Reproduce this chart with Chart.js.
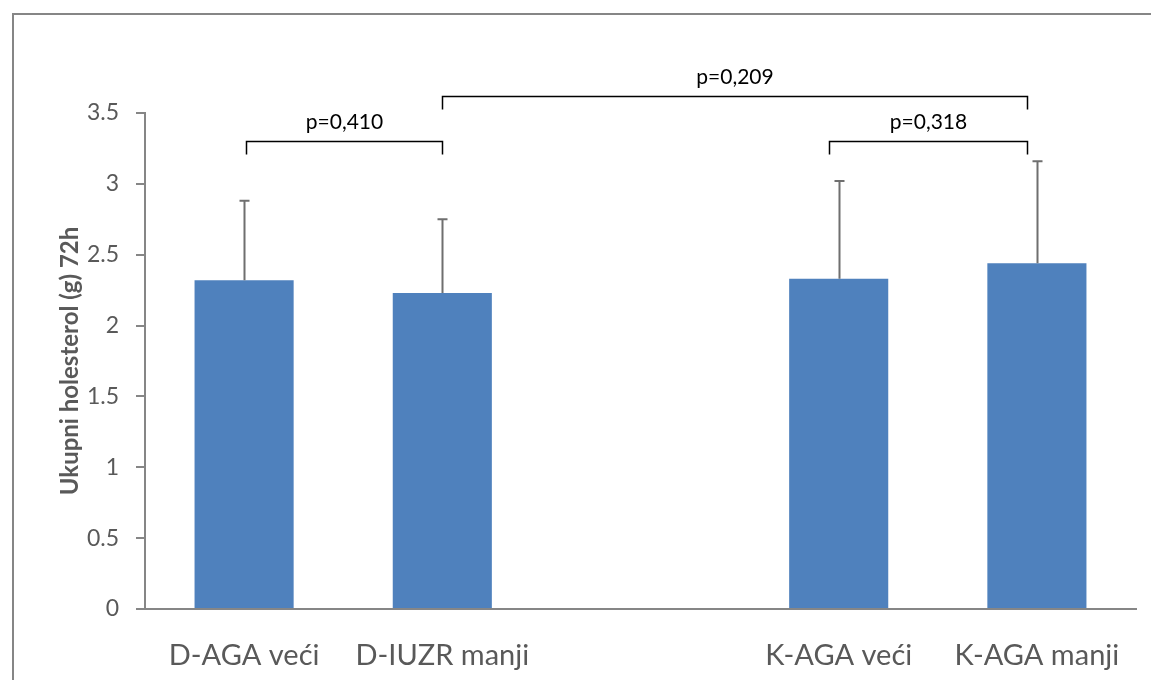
<!DOCTYPE html>
<html>
<head>
<meta charset="utf-8">
<script src="https://cdn.jsdelivr.net/npm/chart.js@4/dist/chart.umd.min.js"></script>
<style>
  html, body { margin: 0; padding: 0; background: #fff; }
  #wrap { width: 1151px; height: 680px; }
</style>
</head>
<body>
<div id="wrap"><canvas id="cholChart" width="1151" height="680"></canvas></div>
<script>
// groups (the empty slot separates D and K groups)
const categories = ['D-AGA veći', 'D-IUZR manji', '', 'K-AGA veći', 'K-AGA manji'];
const means = [2.32, 2.23, null, 2.33, 2.44];
const sdValues = [0.56, 0.52, null, 0.69, 0.72];
const yTicks = [0, 0.5, 1, 1.5, 2, 2.5, 3, 3.5];

// significance brackets: label, from/to category index, height (axis units)
const pLabels = ['p=0,410', 'p=0,209', 'p=0,318'];
const pFrom = [0.01, 1, 2.95];
const pTo = [1, 3.95, 3.95];
const pLevel = [3.30, 3.62, 3.30];

const textColor = '#595959';
const axisColor = '#868686';

// white background plus the outer frame
const framePlugin = {
    id: 'frame',
    beforeDraw(chart) {
        const c = chart.ctx;
        c.save();
        c.fillStyle = '#fff';
        c.fillRect(0, 0, chart.width, chart.height);
        c.strokeStyle = axisColor;
        c.lineWidth = 2;
        c.strokeRect(13, 14, chart.width + 20, chart.height + 20);
        c.restore();
    }
};

// upper standard deviation whiskers
const errorBarPlugin = {
    id: 'errorBars',
    afterDatasetsDraw(chart) {
        const c = chart.ctx;
        const y = chart.scales.y;
        const meta = chart.getDatasetMeta(0);
        c.save();
        c.strokeStyle = '#6f6f6f';
        c.lineWidth = 2;
        meta.data.forEach((bar, i) => {
            if (means[i] == null) return;
            const top = y.getPixelForValue(means[i] + sdValues[i]);
            const x = Math.round(bar.x) + 0.5;
            c.beginPath();
            c.moveTo(x, bar.y);
            c.lineTo(x, top);
            c.moveTo(x - 5, top);
            c.lineTo(x + 5, top);
            c.stroke();
        });
        c.restore();
    }
};

// p-value brackets above the bars
const bracketPlugin = {
    id: 'brackets',
    afterDraw(chart) {
        const c = chart.ctx;
        const xs = chart.scales.x, ys = chart.scales.y;
        c.save();
        c.strokeStyle = '#000';
        c.lineWidth = 1.5;
        c.fillStyle = '#000';
        c.font = '21px Lato';
        c.textAlign = 'center';
        c.textBaseline = 'alphabetic';
        pLabels.forEach((label, i) => {
            const x1 = Math.round(xs.getPixelForValue(pFrom[i])) + 0.5;
            const x2 = Math.round(xs.getPixelForValue(pTo[i])) + 0.5;
            const yb = Math.round(ys.getPixelForValue(pLevel[i])) + 0.5;
            c.beginPath();
            c.moveTo(x1, yb + 13);
            c.lineTo(x1, yb);
            c.lineTo(x2, yb);
            c.lineTo(x2, yb + 13);
            c.stroke();
            c.fillText(label, (x1 + x2) / 2, yb - 13);
        });
        c.restore();
    }
};

new Chart(document.getElementById('cholChart'), {
    type: 'bar',
    data: {
        labels: categories,
        datasets: [{
            data: means,
            backgroundColor: '#4f81bd',
            barPercentage: 1,
            categoryPercentage: 0.5
        }]
    },
    options: {
        responsive: false,
        animation: false,
        layout: { padding: { top: 113, right: 15, left: 0, bottom: 0 } },
        plugins: { legend: { display: false }, tooltip: { enabled: false } },
        scales: {
            x: {
                grid: { display: false },
                border: { display: true, color: axisColor, width: 2 },
                ticks: { color: textColor, font: { family: 'Lato', size: 29 }, padding: 21, maxRotation: 0 },
                afterFit(s) { s.height = 71; }
            },
            y: {
                min: 0,
                max: 3.5,
                afterBuildTicks(s) { s.ticks = yTicks.map(v => ({ value: v })); },
                grid: { drawOnChartArea: false, color: axisColor, lineWidth: 2, tickLength: 9 },
                border: { display: true, color: axisColor, width: 2 },
                ticks: {
                    color: textColor,
                    font: { family: 'Lato', size: 23 },
                    padding: 17,
                    callback: v => String(v)
                },
                title: {
                    display: true,
                    text: 'Ukupni holesterol (g) 72h',
                    color: textColor,
                    font: { family: 'Lato', size: 24, weight: 'bold' },
                    padding: { top: 56, bottom: 0 }
                },
                afterFit(s) { s.width = 145; }
            }
        }
    },
    plugins: [framePlugin, errorBarPlugin, bracketPlugin]
});
</script>
</body>
</html>
